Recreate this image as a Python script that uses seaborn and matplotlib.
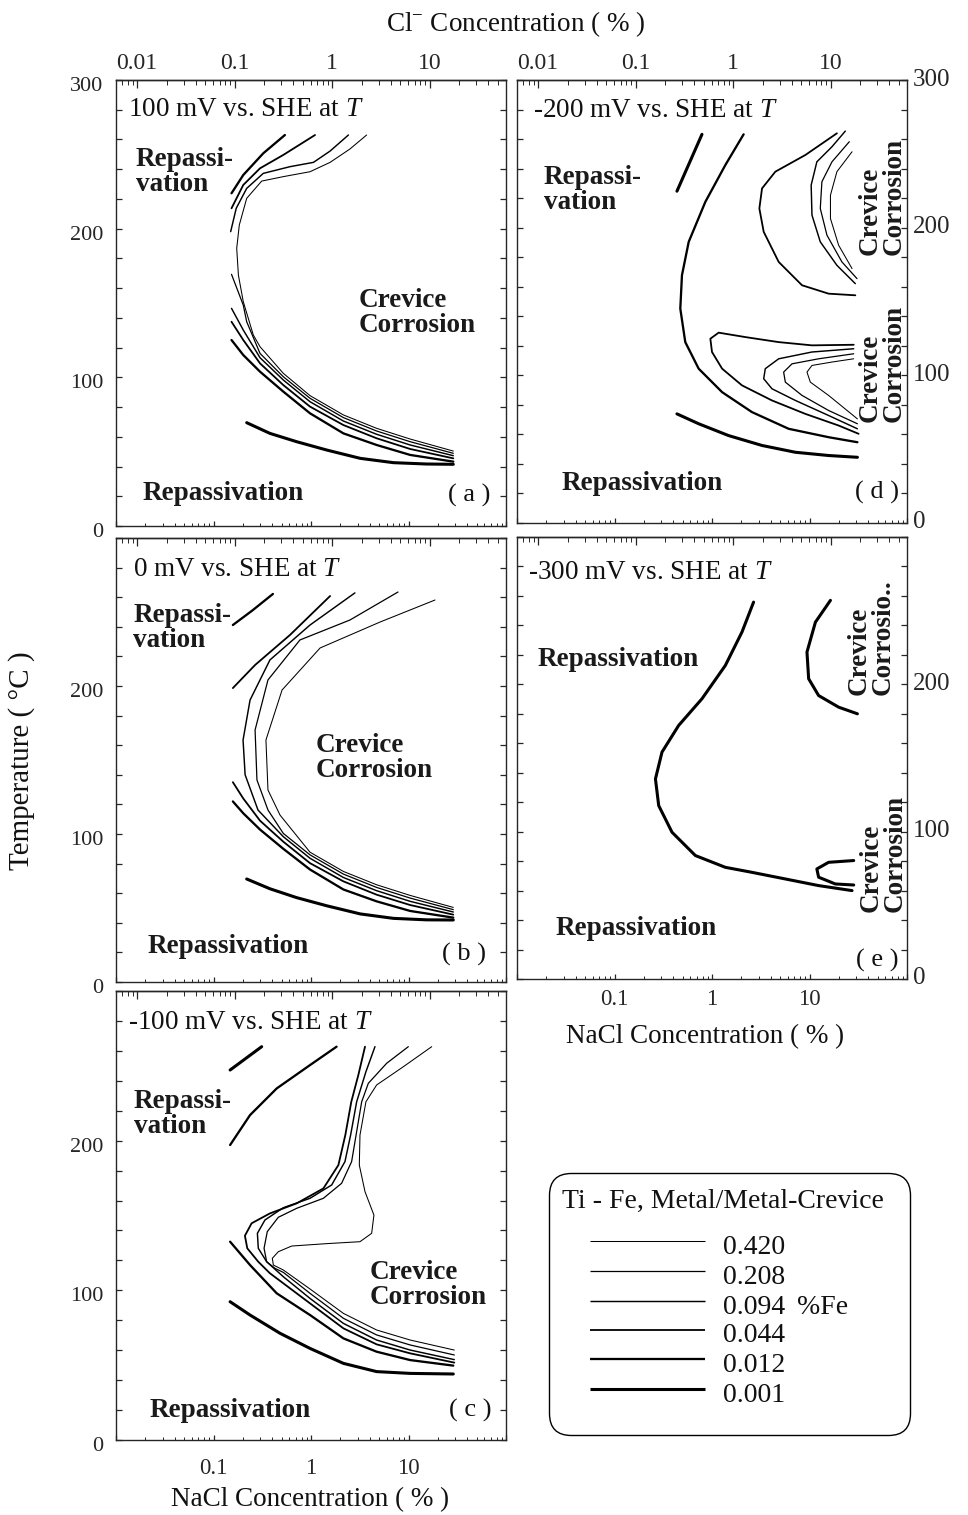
import numpy as np
import pandas as pd
import matplotlib
matplotlib.use("Agg")
import matplotlib.pyplot as plt
import seaborn as sns
from matplotlib.ticker import LogLocator, NullFormatter, MultipleLocator
from matplotlib.patches import FancyBboxPatch
from matplotlib.transforms import ScaledTranslation

# ---------------- data ----------------
FE_LEVELS = ["0.420", "0.208", "0.094", "0.044", "0.012", "0.001"]
FE_WIDTH = [0.75, 0.9, 1.05, 1.3, 1.65, 2.2]

CL_TICKS = [0.01, 0.1, 1, 10]
CL_TICK_LABELS = ["0.01", "0.1", "1", "10"]
NACL_TICKS = [0.01, 0.1, 1, 10, 100]
NACL_TICK_LABELS = ["", "0.1", "1", "10", ""]
T_TICKS = [0, 100, 200, 300]
CL_PER_NACL = 35.45 / 58.44

# panel (a)  100 mV
A_0001_X = [0.219, 0.379, 0.713, 1.45, 3.2, 7.0, 15.3, 28.8]
A_0001_T = [69.5, 62.3, 56.7, 51.1, 45.5, 42.6, 41.7, 41.5]
A_0012U_X = [0.153, 0.202, 0.324, 0.54]
A_0012U_T = [223.8, 236.1, 250.7, 263.0]
A_0012L_X = [0.153, 0.202, 0.300, 0.520, 0.977, 2.15, 4.71, 10.4, 28.8]
A_0012L_T = [125.1, 115.0, 103.8, 90.4, 75.8, 62.3, 54.5, 47.8, 43.3]
A_0044U_X = [0.153, 0.202, 0.300, 0.520, 1.10]
A_0044U_T = [213.7, 229.4, 240.6, 249.6, 263.0]
A_0044L_X = [0.153, 0.202, 0.300, 0.520, 0.977, 2.15, 4.71, 10.4, 28.8]
A_0044L_T = [137.4, 125.1, 109.4, 94.8, 80.3, 67.9, 59.0, 51.8, 45.5]
A_0094U_X = [0.150, 0.171, 0.219, 0.324, 0.609, 1.06, 1.57, 2.42]
A_0094U_T = [198.0, 213.7, 227.1, 237.2, 241.7, 244.6, 252.2, 263.0]
A_0094L_X = [0.153, 0.202, 0.300, 0.520, 0.977, 2.15, 4.71, 10.4, 28.8]
A_0094L_T = [146.4, 131.8, 113.2, 98.2, 83.6, 70.6, 61.7, 54.5, 47.3]
A_0208L_X = [0.153, 0.202, 0.219, 0.300, 0.520, 0.977, 2.15, 4.71, 10.4, 28.8]
A_0208L_T = [169.3, 148.6, 137.4, 116.1, 100.4, 85.9, 72.9, 63.9, 56.7, 48.9]
A_0420_X = [3.72, 2.51, 1.57, 0.977, 0.520, 0.312, 0.219, 0.184, 0.173, 0.180,
            0.202, 0.256, 0.300, 0.520, 0.977, 2.15, 4.71, 10.4, 28.8]
A_0420_T = [263.0, 253.6, 244.6, 238.3, 235.0, 232.0, 220.4, 202.5, 186.8, 168.8,
            150.9, 128.5, 120.6, 102.7, 87.7, 74.7, 65.7, 58.5, 50.4]

# panel (b)  0 mV
B_0001_X = [0.219, 0.379, 0.713, 1.45, 3.2, 7.0, 15.3, 28.8]
B_0001_T = [69.6, 63.0, 57.0, 51.5, 46.0, 43.0, 42.0, 41.9]
B_0012U_X = [0.158, 0.25, 0.407]
B_0012U_T = [241.2, 251.0, 262.2]
B_0012L_X = [0.158, 0.202, 0.300, 0.520, 0.977, 2.15, 4.71, 10.4, 28.8]
B_0012L_T = [122.0, 114.0, 103.0, 90.0, 76.0, 62.5, 54.5, 48.0, 43.5]
B_0044U_X = [0.158, 0.267, 0.609, 1.57]
B_0044U_T = [198.6, 214.2, 234.5, 260.8]
B_0044L_X = [0.158, 0.202, 0.300, 0.520, 0.977, 2.15, 4.71, 10.4, 28.8]
B_0044L_T = [135.0, 124.0, 109.0, 94.8, 80.3, 68.0, 59.0, 52.0, 45.5]
B_0094_X = [2.82, 0.977, 0.379, 0.237, 0.201, 0.211, 0.286, 0.520, 0.977, 2.15, 4.71, 10.4, 28.8]
B_0094_T = [262.9, 241.2, 217.6, 190.5, 163.5, 140.0, 116.2, 98.2, 83.6, 70.6, 61.7, 54.5, 47.3]
B_0208_X = [7.8, 2.51, 0.77, 0.362, 0.267, 0.279, 0.362, 0.520, 0.977, 2.15, 4.71, 10.4, 28.8]
B_0208_T = [263.5, 244.6, 231.1, 204.1, 170.3, 136.5, 116.2, 100.4, 85.9, 72.9, 63.9, 56.7, 48.9]
B_0420_X = [18.7, 5.1, 1.24, 0.505, 0.345, 0.362, 0.481, 0.977, 2.15, 4.71, 10.4, 28.8]
B_0420_T = [258.1, 243.2, 225.7, 197.3, 163.5, 129.7, 112.8, 87.7, 74.7, 65.7, 58.5, 50.4]

# panel (c)  -100 mV
C_0001U_X = [0.148, 0.312]
C_0001U_T = [247.2, 262.8]
C_0001L_X = [0.148, 0.237, 0.481, 0.977, 2.15, 4.71, 10.4, 28.8]
C_0001L_T = [92.4, 83.5, 71.3, 61.2, 51.2, 45.7, 44.5, 44.1]
C_0012U_X = [0.148, 0.237, 0.445, 0.977, 1.83]
C_0012U_T = [197.1, 217.1, 234.9, 250.5, 262.8]
C_0012L_X = [0.148, 0.237, 0.445, 0.977, 2.15, 4.71, 10.4, 28.8]
C_0012L_T = [132.5, 116.9, 98.0, 83.5, 67.9, 59.0, 53.4, 49.7]
C_0044_X = [3.58, 3.06, 2.59, 2.25, 1.91, 1.34, 0.713, 0.379, 0.246, 0.210,
            0.222, 0.288, 0.379, 0.520, 0.977, 2.15, 4.71, 10.4, 29.5]
C_0044_T = [262.8, 243.9, 226.0, 203.8, 183.7, 168.1, 158.1, 151.4, 144.8, 136.5,
            128.1, 119.1, 111.4, 104.7, 91.3, 74.6, 63.9, 57.9, 51.7]
C_0094_X = [4.53, 3.66, 2.94, 2.55, 2.23, 1.63, 0.977, 0.520, 0.337, 0.282,
            0.288, 0.351, 0.520, 0.977, 2.15, 4.71, 10.4, 29.5]
C_0094_T = [262.8, 246.1, 226.0, 203.8, 186.0, 170.4, 161.5, 155.2, 147.0, 138.1,
            128.1, 119.1, 109.1, 94.6, 77.9, 66.8, 60.1, 53.7]
C_0208_X = [9.96, 5.97, 3.87, 3.31, 2.90, 2.61, 2.06, 1.34, 0.713, 0.462,
            0.356, 0.330, 0.351, 0.427, 0.520, 0.977, 2.15, 4.71, 10.4, 29.5]
C_0208_T = [262.8, 251.7, 238.3, 226.0, 203.8, 186.0, 171.5, 161.5, 154.8, 148.8,
            139.2, 128.1, 119.1, 114.7, 112.0, 98.0, 81.3, 70.2, 63.5, 56.8]
C_0420_X = [17.3, 8.85, 4.71, 3.66, 3.18, 3.13, 3.58, 4.42, 4.19, 3.18, 1.45,
            0.634, 0.462, 0.401, 0.411, 0.520, 0.977, 2.15, 4.71, 10.4, 29.5]
C_0420_T = [262.8, 249.4, 237.2, 226.0, 203.8, 183.7, 165.9, 150.3, 138.1, 132.5, 131.2,
            129.6, 125.8, 121.4, 116.9, 113.6, 100.9, 84.6, 73.5, 66.8, 60.1]

# panel (d)  -200 mV
D_0001U_X = [0.437, 0.789]
D_0001U_T = [224.7, 263.2]
D_0001L_X = [0.437, 0.73, 1.48, 3.26, 7.16, 15.7, 31.0]
D_0001L_T = [73.9, 67.2, 59.2, 52.5, 47.9, 45.7, 44.5]
D_0012_X = [2.11, 1.37, 0.855, 0.577, 0.492, 0.473, 0.532, 0.73, 1.27, 2.57, 6.11, 15.7, 31.0]
D_0012_T = [263.2, 242.4, 217.5, 190.4, 167.8, 145.2, 122.5, 104.5, 88.6, 75.1, 63.8, 58.1, 54.7]
D_0044A_X = [19.1, 9.06, 4.46, 3.26, 3.06, 3.39, 4.83, 8.38, 15.7, 29.5]
D_0044A_T = [263.9, 249.2, 237.9, 226.6, 213.0, 197.2, 176.8, 161.0, 155.3, 154.2]
D_0044B_X = [28.4, 10.6, 4.83, 2.20, 1.17, 0.962, 1.0, 1.27, 2.03, 4.12, 9.06, 19.9, 31.9]
D_0044B_T = [120.7, 120.3, 122.5, 125.9, 128.9, 124.8, 115.8, 104.5, 93.2, 83.0, 73.9, 66.0, 60.4]
D_0094A_X = [23.3, 17.0, 11.9, 10.4, 10.6, 12.9, 19.1, 29.5]
D_0094A_T = [265.4, 254.8, 244.6, 228.8, 208.5, 190.4, 174.5, 162.1]
D_0208A_X = [25.6, 17.0, 13.4, 12.9, 15.1, 21.5, 30.7]
D_0208A_T = [258.2, 244.6, 231.1, 213.0, 194.9, 176.8, 165.5]
D_0420A_X = [27.3, 19.1, 16.4, 16.4, 19.9, 27.3]
D_0420A_T = [251.4, 237.9, 222.0, 206.2, 188.1, 172.3]
D_0094B_X = [28.4, 10.6, 4.83, 3.52, 3.39, 4.12, 7.16, 15.7, 31.0]
D_0094B_T = [118.0, 115.8, 111.2, 104.5, 97.7, 90.9, 83.0, 72.8, 63.8]
D_0208B_X = [28.4, 12.4, 6.62, 5.43, 5.65, 8.38, 15.7, 31.0]
D_0208B_T = [114.6, 111.2, 107.8, 102.2, 95.4, 86.4, 76.2, 67.2]
D_0420B_X = [28.4, 17.0, 10.6, 9.42, 10.2, 15.7, 31.0]
D_0420B_T = [111.2, 109.0, 106.7, 102.2, 95.4, 86.4, 70.5]

# panel (e)  -300 mV
E_MAIN_X = [2.67, 2.03, 1.37, 0.789, 0.455, 0.307, 0.263, 0.284, 0.389, 0.675, 1.37, 2.57, 5.65, 12.4, 27.3]
E_MAIN_T = [255.8, 235.5, 212.8, 190.2, 172.1, 154.0, 135.8, 117.7, 99.6, 83.8, 75.8, 72.4, 67.9, 63.4, 60.0]
E_TOP_X = [16.4, 11.5, 9.42, 9.8, 12.4, 19.9, 31.0]
E_TOP_T = [257.0, 242.2, 221.9, 203.8, 192.4, 184.5, 180.0]
E_LOOP_X = [28.4, 15.7, 11.9, 12.4, 18.4, 28.4]
E_LOOP_T = [80.4, 79.2, 74.7, 69.1, 64.5, 63.8]

PANEL_A = [("0.001", A_0001_X, A_0001_T), ("0.012", A_0012U_X, A_0012U_T), ("0.012", A_0012L_X, A_0012L_T),
           ("0.044", A_0044U_X, A_0044U_T), ("0.044", A_0044L_X, A_0044L_T),
           ("0.094", A_0094U_X, A_0094U_T), ("0.094", A_0094L_X, A_0094L_T),
           ("0.208", A_0208L_X, A_0208L_T), ("0.420", A_0420_X, A_0420_T)]
PANEL_B = [("0.001", B_0001_X, B_0001_T), ("0.012", B_0012U_X, B_0012U_T), ("0.012", B_0012L_X, B_0012L_T),
           ("0.044", B_0044U_X, B_0044U_T), ("0.044", B_0044L_X, B_0044L_T),
           ("0.094", B_0094_X, B_0094_T), ("0.208", B_0208_X, B_0208_T), ("0.420", B_0420_X, B_0420_T)]
PANEL_C = [("0.001", C_0001U_X, C_0001U_T), ("0.001", C_0001L_X, C_0001L_T),
           ("0.012", C_0012U_X, C_0012U_T), ("0.012", C_0012L_X, C_0012L_T),
           ("0.044", C_0044_X, C_0044_T), ("0.094", C_0094_X, C_0094_T),
           ("0.208", C_0208_X, C_0208_T), ("0.420", C_0420_X, C_0420_T)]
PANEL_D = [("0.001", D_0001U_X, D_0001U_T), ("0.001", D_0001L_X, D_0001L_T), ("0.012", D_0012_X, D_0012_T),
           ("0.044", D_0044A_X, D_0044A_T), ("0.044", D_0044B_X, D_0044B_T),
           ("0.094", D_0094A_X, D_0094A_T), ("0.208", D_0208A_X, D_0208A_T), ("0.420", D_0420A_X, D_0420A_T),
           ("0.094", D_0094B_X, D_0094B_T), ("0.208", D_0208B_X, D_0208B_T), ("0.420", D_0420B_X, D_0420B_T)]
PANEL_E = [("0.001", E_MAIN_X, E_MAIN_T), ("0.001", E_TOP_X, E_TOP_T), ("0.001", E_LOOP_X, E_LOOP_T)]

# ---------------- style ----------------
sns.set_style("ticks")
plt.rcParams["font.family"] = ["Liberation Serif", "DejaVu Serif"]
plt.rcParams["mathtext.fontset"] = "custom"
plt.rcParams["mathtext.rm"] = "Liberation Serif"
plt.rcParams["mathtext.it"] = "Liberation Serif:italic"
plt.rcParams["axes.linewidth"] = 1.0
plt.rcParams["text.color"] = "#111111"

SIZE_MAP = dict(zip(FE_LEVELS, FE_WIDTH))
LEFT_FS = 16
RIGHT_FS = 18
TOP_FS = 17
BOTTOM_FS = 16.5
TITLE_FS = 19.5
REGION_FS = 19.5
AXIS_FS = 19.5


def nacl_to_cl(x):
    return np.asarray(x) * CL_PER_NACL


def cl_to_nacl(x):
    return np.asarray(x) / CL_PER_NACL


def draw_curves(ax, curves):
    rows = []
    for cid, (fe, xs, ts) in enumerate(curves):
        for k, (x, t) in enumerate(zip(xs, ts)):
            rows.append({"cid": cid, "fe": fe, "k": k, "nacl": x, "temp": t})
    df = pd.DataFrame(rows)
    sns.lineplot(data=df, x="nacl", y="temp", units="cid", estimator=None, sort=False,
                 size="fe", sizes=SIZE_MAP, size_order=FE_LEVELS, color="black",
                 legend=False, ax=ax)


def style_axes(ax, side, ylabels, top_labels, bottom_labels, bottom_pad):
    ax.set_xscale("log")
    ax.set_xlim(0.01, 100)
    ax.set_ylim(0, 300)
    ax.set_xlabel("")
    ax.set_ylabel("")
    ax.set_yticks(T_TICKS, labels=ylabels)
    ax.yaxis.set_minor_locator(MultipleLocator(20))
    ax.tick_params(axis="y", which="both", direction="in", length=4, width=0.9,
                   left=True, right=True, labelleft=(side == "left"),
                   labelright=(side == "right"),
                   labelsize=(LEFT_FS if side == "left" else RIGHT_FS),
                   pad=(9 if side == "left" else 4))
    ax.set_xticks(NACL_TICKS, labels=NACL_TICK_LABELS)
    ax.xaxis.set_minor_locator(LogLocator(base=10, subs=np.arange(2, 10), numticks=60))
    ax.xaxis.set_minor_formatter(NullFormatter())
    ax.tick_params(axis="x", which="major", direction="in", length=3.8, width=0.9,
                   bottom=True, top=False, labelbottom=bottom_labels,
                   labelsize=BOTTOM_FS, pad=bottom_pad)
    ax.tick_params(axis="x", which="minor", direction="in", length=2.3, width=0.7,
                   bottom=True, top=False)
    sec = ax.secondary_xaxis("top", functions=(nacl_to_cl, cl_to_nacl))
    sec.set_xticks(CL_TICKS, labels=CL_TICK_LABELS)
    sec.xaxis.set_minor_locator(LogLocator(base=10, subs=np.arange(2, 10), numticks=60))
    sec.xaxis.set_minor_formatter(NullFormatter())
    sec.tick_params(axis="x", which="major", direction="in", length=6, width=0.9,
                    labelsize=TOP_FS, pad=4, labeltop=top_labels)
    sec.tick_params(axis="x", which="minor", direction="in", length=3.5, width=0.7)
    sec.spines["top"].set_linewidth(1.0)
    # the scanned temperature labels sit a little off their ticks
    down = ScaledTranslation(0, -4 / 100, ax.figure.dpi_scale_trans)
    up = ScaledTranslation(0, 3 / 100, ax.figure.dpi_scale_trans)
    for tk in ax.yaxis.get_major_ticks():
        tk.label1.set_transform(tk.label1.get_transform() + down)
        tk.label2.set_transform(tk.label2.get_transform() + up)


def put(ax, x, y, s, **kw):
    ax.text(x, y, s, transform=ax.transAxes, **kw)


fig = plt.figure(figsize=(9.68, 15.15), dpi=100)
FW, FH = 968.0, 1515.0
LX, RX, W = 116 / FW, 517 / FW, 390 / FW
ax_a = fig.add_axes([LX, 1 - 526 / FH, W, 446 / FH])
ax_b = fig.add_axes([LX, 1 - 982 / FH, W, 444 / FH])
ax_c = fig.add_axes([LX, 1 - 1440 / FH, W, 449 / FH])
ax_d = fig.add_axes([RX, 1 - 523 / FH, W, 443 / FH])
ax_e = fig.add_axes([RX, 1 - 979 / FH, W, 442 / FH])

for ax, curves in [(ax_a, PANEL_A), (ax_b, PANEL_B), (ax_c, PANEL_C), (ax_d, PANEL_D), (ax_e, PANEL_E)]:
    draw_curves(ax, curves)

style_axes(ax_a, "left", ["0", "100", "200", "300"], True, False, 7)
style_axes(ax_b, "left", ["0", "100", "200", ""], False, False, 7)
style_axes(ax_c, "left", ["0", "100", "200", ""], False, True, 13)
style_axes(ax_d, "right", ["0", "100", "200", "300"], True, False, 7)
style_axes(ax_e, "right", ["0", "100", "200", ""], False, True, 7)

bold = dict(fontsize=REGION_FS, fontweight="bold", color="#1a1a1a")
ttl = dict(fontsize=TITLE_FS, va="center", ha="left")
lab = dict(fontsize=19, va="center", ha="right")

# (a)
put(ax_a, 0.031, 0.933, "100 mV vs. SHE at $T$", **ttl)
put(ax_a, 0.051, 0.794, "Repassi-\nvation", va="center", ha="left", linespacing=1.0, **bold)
put(ax_a, 0.621, 0.478, "Crevice\nCorrosion", va="center", ha="left", linespacing=1.0, **bold)
put(ax_a, 0.067, 0.072, "Repassivation", va="center", ha="left", **bold)
put(ax_a, 0.959, 0.068, "( a )", **lab)
# (b)
put(ax_b, 0.044, 0.928, "0 mV vs. SHE at $T$", **ttl)
put(ax_b, 0.044, 0.797, "Repassi-\nvation", va="center", ha="left", linespacing=1.0, **bold)
put(ax_b, 0.513, 0.505, "Crevice\nCorrosion", va="center", ha="left", linespacing=1.0, **bold)
put(ax_b, 0.082, 0.081, "Repassivation", va="center", ha="left", **bold)
put(ax_b, 0.949, 0.061, "( b )", **lab)
# (c)
put(ax_c, 0.031, 0.929, "-100 mV vs. SHE at $T$", **ttl)
put(ax_c, 0.046, 0.726, "Repassi-\nvation", va="center", ha="left", linespacing=1.0, **bold)
put(ax_c, 0.651, 0.345, "Crevice\nCorrosion", va="center", ha="left", linespacing=1.0, **bold)
put(ax_c, 0.087, 0.065, "Repassivation", va="center", ha="left", **bold)
put(ax_c, 0.964, 0.065, "( c )", **lab)
# (d)
put(ax_d, 0.041, 0.932, "-200 mV vs. SHE at $T$", **ttl)
put(ax_d, 0.069, 0.752, "Repassi-\nvation", va="center", ha="left", linespacing=1.0, **bold)
put(ax_d, 0.114, 0.090, "Repassivation", va="center", ha="left", **bold)
put(ax_d, 0.979, 0.068, "( d )", **lab)
put(ax_d, 0.937, 0.605, "Crevice\nCorrosion", va="bottom", ha="center", rotation=90,
    multialignment="left", linespacing=0.95, **bold)
put(ax_d, 0.937, 0.228, "Crevice\nCorrosion", va="bottom", ha="center", rotation=90,
    multialignment="left", linespacing=0.95, **bold)
# (e)
put(ax_e, 0.028, 0.919, "-300 mV vs. SHE at $T$", **ttl)
put(ax_e, 0.054, 0.722, "Repassivation", va="center", ha="left", **bold)
put(ax_e, 0.100, 0.115, "Repassivation", va="center", ha="left", **bold)
put(ax_e, 0.979, 0.043, "( e )", **lab)
put(ax_e, 0.907, 0.643, "Crevice\nCorrosio..", va="bottom", ha="center", rotation=90,
    multialignment="left", linespacing=0.95, **bold)
put(ax_e, 0.940, 0.152, "Crevice\nCorrosion", va="bottom", ha="center", rotation=90,
    multialignment="left", linespacing=0.95, **bold)

# axis titles
fig.text(516 / FW, 1 - 24 / FH, r"Cl$^{-}$ Concentration ( % )", ha="center", va="center", fontsize=AXIS_FS)
fig.text(310 / FW, 1 - 1500 / FH, "NaCl Concentration ( % )", ha="center", va="center", fontsize=AXIS_FS)
fig.text(705 / FW, 1 - 1037 / FH, "NaCl Concentration ( % )", ha="center", va="center", fontsize=AXIS_FS)
fig.text(22 / FW, 1 - 761 / FH, "Temperature ( °C )", ha="center", va="center", rotation=90, fontsize=21)

# legend panel
lg = fig.add_axes([548 / FW, 1 - 1437 / FH, 364 / FW, 265 / FH])
lg.set_xlim(0, 364)
lg.set_ylim(0, 265)
lg.axis("off")
lg.add_patch(FancyBboxPatch((1.5, 1.5), 361, 262, boxstyle="round,pad=0,rounding_size=22",
                            fill=False, lw=1.0, ec="black"))
lg.text(14, 236, "Ti - Fe, Metal/Metal-Crevice", fontsize=20, va="center", ha="left")
LEG_TEXT_Y = [190, 160, 130, 101, 72, 42]
for lev, w, ty in zip(FE_LEVELS, FE_WIDTH, LEG_TEXT_Y):
    lg.plot([42, 157], [ty + 6, ty + 6], color="black", lw=w, solid_capstyle="butt")
    lg.text(175, ty, lev, fontsize=20, va="center", ha="left")
lg.text(249, 130, "%Fe", fontsize=20, va="center", ha="left")

fig.savefig("out.png", dpi=100, facecolor="white")
